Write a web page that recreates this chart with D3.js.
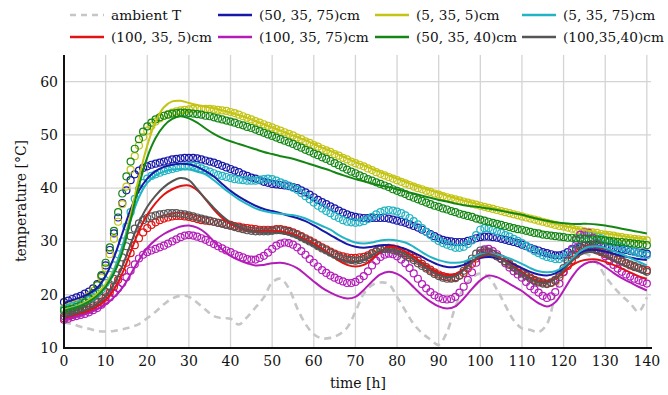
<!DOCTYPE html>
<meta charset="utf-8">
<style>
body { margin: 0; background: #fff; }
text { font-family: "DejaVu Serif", serif; fill: #111; }
.grid line { stroke: #d4d4d4; stroke-width: 1.3px; }
.meas { fill: none; stroke-width: 1.2px; }
.sim { fill: none; stroke-width: 2px; }
</style>
<body>
<div id="chart"></div>
<script src="https://d3js.org/d3.v7.min.js"></script>
<script>

// measurement times [h], hourly
var hoursMeas = [0, 1, 2, 3, 4, 5, 6, 7, 8, 9,
  10, 11, 12, 13, 14, 15, 16, 17, 18, 19,
  20, 21, 22, 23, 24, 25, 26, 27, 28, 29,
  30, 31, 32, 33, 34, 35, 36, 37, 38, 39,
  40, 41, 42, 43, 44, 45, 46, 47, 48, 49,
  50, 51, 52, 53, 54, 55, 56, 57, 58, 59,
  60, 61, 62, 63, 64, 65, 66, 67, 68, 69,
  70, 71, 72, 73, 74, 75, 76, 77, 78, 79,
  80, 81, 82, 83, 84, 85, 86, 87, 88, 89,
  90, 91, 92, 93, 94, 95, 96, 97, 98, 99,
  100, 101, 102, 103, 104, 105, 106, 107, 108, 109,
  110, 111, 112, 113, 114, 115, 116, 117, 118, 119,
  120, 121, 122, 123, 124, 125, 126, 127, 128, 129,
  130, 131, 132, 133, 134, 135, 136, 137, 138, 139,
  140];

// simulation output times [h]
var hoursSim = [0, 2, 4, 6, 8, 10, 12, 14, 16, 18,
  20, 22, 24, 26, 28, 30, 32, 34, 36, 38,
  40, 42, 44, 46, 48, 50, 52, 54, 56, 58,
  60, 62, 64, 66, 68, 70, 72, 74, 76, 78,
  80, 82, 84, 86, 88, 90, 92, 94, 96, 98,
  100, 102, 104, 106, 108, 110, 112, 114, 116, 118,
  120, 122, 124, 126, 128, 130, 132, 134, 136, 138,
  140];

var xTicks = [0, 10, 20, 30, 40, 50, 60, 70, 80, 90, 100, 110, 120, 130, 140];
var yTicks = [10, 20, 30, 40, 50, 60];

var ambientT = [14.8, 14.5, 14.0, 13.6, 13.2, 13.1, 13.2, 13.5, 13.9, 14.5,
  15.6, 16.8, 18.2, 19.3, 19.8, 19.6, 18.5, 17.2, 16.0, 15.6,
  15.5, 14.4, 15.8, 17.6, 19.5, 22.3, 23.0, 21.2, 17.5, 14.5,
  12.6, 11.8, 11.9, 12.5, 13.8, 16.8, 20.2, 21.8, 22.3, 22.0,
  19.6, 17.0, 14.5, 12.8, 11.6, 10.6, 13.0, 17.7, 21.3, 23.2,
  24.0, 23.3, 21.0, 18.0, 15.2, 13.7, 13.4, 13.0, 14.5, 20.0,
  25.0, 27.0, 27.8, 27.5, 26.0, 23.5, 21.5, 19.8, 18.4, 16.8,
  19.5];

// measured (circles), hourly
var meas_50_35_75 = [18.6, 18.9, 19.2, 19.5, 19.8, 20.2, 20.6, 21.2, 22.0, 23.5,
  25.5, 28.4, 31.5, 34.5, 37.2, 39.6, 41.5, 42.6, 43.3, 43.8,
  44.1, 44.4, 44.6, 44.8, 45.0, 45.2, 45.4, 45.5, 45.6, 45.7,
  45.7, 45.7, 45.6, 45.4, 45.2, 45.0, 44.8, 44.5, 44.2, 43.9,
  43.6, 43.3, 43.0, 42.6, 42.3, 42.0, 41.8, 41.5, 41.2, 41.0,
  40.8, 40.7, 40.6, 40.5, 40.4, 40.2, 40.0, 39.6, 39.2, 38.8,
  38.3, 37.8, 37.4, 37.0, 36.6, 36.2, 35.8, 35.4, 35.1, 34.8,
  34.6, 34.5, 34.4, 34.4, 34.4, 34.4, 34.4, 34.4, 34.3, 34.1,
  33.9, 33.7, 33.5, 33.2, 32.9, 32.6, 32.2, 31.8, 31.4, 31.0,
  30.6, 30.3, 30.1, 30.0, 29.9, 29.9, 29.9, 30.1, 30.3, 30.6,
  30.8, 30.9, 30.9, 30.8, 30.7, 30.5, 30.3, 30.1, 29.9, 29.7,
  29.4, 29.1, 28.8, 28.5, 28.3, 28.0, 27.8, 27.6, 27.4, 27.4,
  27.6, 28.0, 28.4, 28.7, 29.0, 29.2, 29.3, 29.3, 29.3, 29.2,
  29.1, 29.0, 28.8, 28.7, 28.5, 28.4, 28.2, 28.1, 27.9, 27.8,
  27.7];
var meas_5_35_5 = [17.5, 17.7, 18.0, 18.3, 18.6, 19.1, 19.8, 20.7, 21.8, 23.2,
  25.0, 27.6, 30.5, 33.7, 37.0, 40.3, 43.5, 46.0, 48.0, 49.6,
  50.8, 51.7, 52.5, 53.1, 53.6, 53.9, 54.2, 54.4, 54.6, 54.7,
  54.8, 54.9, 54.9, 54.9, 54.9, 54.9, 54.8, 54.7, 54.6, 54.5,
  54.3, 54.1, 53.8, 53.5, 53.2, 52.9, 52.6, 52.3, 52.0, 51.7,
  51.4, 51.1, 50.8, 50.5, 50.2, 49.9, 49.5, 49.2, 48.8, 48.5,
  48.1, 47.8, 47.4, 47.1, 46.8, 46.4, 46.1, 45.7, 45.4, 45.0,
  44.7, 44.4, 44.1, 43.7, 43.4, 43.0, 42.7, 42.4, 42.1, 41.8,
  41.5, 41.2, 40.9, 40.6, 40.3, 40.0, 39.8, 39.5, 39.3, 39.0,
  38.8, 38.5, 38.3, 38.1, 37.9, 37.7, 37.5, 37.3, 37.1, 36.9,
  36.7, 36.5, 36.3, 36.1, 35.9, 35.7, 35.5, 35.3, 35.1, 34.9,
  34.7, 34.5, 34.3, 34.1, 33.9, 33.7, 33.5, 33.3, 33.1, 32.9,
  32.8, 32.6, 32.4, 32.2, 32.1, 31.9, 31.8, 31.7, 31.6, 31.4,
  31.3, 31.2, 31.1, 30.9, 30.8, 30.7, 30.6, 30.5, 30.4, 30.3,
  30.2];
var meas_5_35_75 = [17.3, 17.5, 17.8, 18.0, 18.3, 18.6, 19.0, 19.5, 20.2, 21.0,
  22.2, 23.7, 25.5, 27.6, 30.0, 32.8, 35.5, 38.0, 39.8, 41.0,
  41.8, 42.3, 42.6, 42.9, 43.2, 43.4, 43.6, 43.8, 44.0, 44.1,
  44.2, 44.2, 44.0, 43.7, 43.4, 43.1, 42.8, 42.5, 42.3, 42.1,
  41.9, 41.7, 41.6, 41.5, 41.4, 41.4, 41.4, 41.6, 41.7, 41.8,
  41.7, 41.4, 41.1, 40.8, 40.5, 40.1, 39.7, 39.1, 38.5, 37.9,
  37.3, 36.7, 36.2, 35.7, 35.3, 34.8, 34.4, 34.0, 33.7, 33.6,
  33.5, 33.6, 33.8, 34.2, 34.6, 35.1, 35.5, 35.8, 35.9, 35.8,
  35.6, 35.3, 34.9, 34.4, 33.8, 33.2, 32.5, 31.8, 31.2, 30.6,
  30.1, 29.7, 29.4, 29.1, 28.8, 28.8, 29.0, 29.5, 30.2, 31.2,
  32.2, 32.5, 32.5, 32.2, 31.9, 31.6, 31.2, 30.9, 30.5, 30.1,
  29.7, 29.2, 28.7, 28.2, 27.8, 27.4, 27.1, 26.9, 26.7, 26.7,
  27.0, 27.5, 28.3, 29.4, 30.5, 31.1, 31.4, 31.2, 30.9, 30.6,
  30.2, 29.8, 29.5, 29.2, 28.9, 28.6, 28.3, 28.0, 27.8, 27.6,
  27.4];
var meas_100_35_5 = [15.6, 15.9, 16.2, 16.5, 16.7, 17.0, 17.2, 17.6, 18.0, 18.7,
  19.5, 20.4, 21.5, 22.8, 24.3, 26.0, 27.8, 29.3, 30.6, 31.7,
  32.5, 33.1, 33.6, 34.0, 34.3, 34.5, 34.7, 34.8, 34.8, 34.7,
  34.6, 34.4, 34.2, 34.0, 33.9, 33.8, 33.7, 33.5, 33.4, 33.2,
  33.1, 32.9, 32.8, 32.6, 32.5, 32.4, 32.3, 32.2, 32.2, 32.2,
  32.2, 32.3, 32.3, 32.2, 32.0, 31.7, 31.4, 31.0, 30.6, 30.2,
  29.8, 29.3, 28.9, 28.5, 28.1, 27.7, 27.4, 27.2, 27.0, 26.9,
  26.9, 27.0, 27.1, 27.4, 27.8, 28.2, 28.5, 28.7, 28.8, 28.7,
  28.5, 28.2, 27.8, 27.4, 26.9, 26.4, 25.8, 25.2, 24.7, 24.2,
  23.8, 23.5, 23.3, 23.2, 23.3, 23.6, 24.1, 24.9, 25.8, 26.8,
  27.6, 27.9, 27.9, 27.6, 27.2, 26.8, 26.3, 25.8, 25.2, 24.7,
  24.2, 23.7, 23.2, 22.8, 22.5, 22.3, 22.1, 22.2, 22.6, 23.3,
  24.3, 25.4, 26.5, 27.5, 28.2, 28.6, 28.7, 28.6, 28.3, 28.0,
  27.6, 27.3, 26.9, 26.6, 26.2, 25.9, 25.5, 25.2, 25.0, 24.8,
  24.6];
var meas_100_35_75 = [15.3, 15.5, 15.8, 16.0, 16.2, 16.4, 16.7, 17.1, 17.5, 18.1,
  18.8, 19.5, 20.3, 21.2, 22.2, 23.3, 24.5, 25.7, 26.8, 27.5,
  28.0, 28.3, 28.6, 28.9, 29.2, 29.6, 30.0, 30.4, 30.8, 31.1,
  31.2, 31.1, 30.9, 30.6, 30.3, 29.9, 29.5, 29.1, 28.7, 28.3,
  28.0, 27.6, 27.3, 27.0, 26.7, 26.6, 26.6, 26.9, 27.3, 27.9,
  28.6, 29.2, 29.6, 29.8, 29.7, 29.4, 28.9, 28.2, 27.5, 26.7,
  26.0, 25.3, 24.6, 24.1, 23.6, 23.2, 22.8, 22.5, 22.2, 22.2,
  22.4, 22.9, 23.5, 24.4, 25.5, 26.4, 27.1, 27.5, 27.7, 27.6,
  27.2, 26.6, 25.9, 25.0, 24.0, 23.0, 22.0, 21.2, 20.5, 19.9,
  19.5, 19.2, 19.1, 19.2, 19.6, 20.4, 21.5, 22.8, 24.2, 26.0,
  27.8, 28.5, 28.6, 28.2, 27.6, 26.8, 25.9, 25.1, 24.4, 23.8,
  23.2, 22.4, 21.6, 21.0, 20.4, 19.8, 19.4, 19.7, 20.5, 22.1,
  24.2, 26.4, 28.6, 30.3, 31.3, 31.7, 31.6, 30.7, 29.6, 28.4,
  27.2, 26.3, 25.6, 24.9, 24.3, 23.8, 23.4, 23.0, 22.7, 22.4,
  22.1];
var meas_50_35_40 = [17.0, 17.2, 17.4, 17.7, 18.0, 18.5, 19.3, 20.3, 21.8, 23.7,
  26.0, 28.9, 32.0, 35.5, 39.0, 42.2, 45.0, 47.4, 49.2, 50.6,
  51.6, 52.3, 52.9, 53.3, 53.6, 53.8, 54.0, 54.1, 54.2, 54.2,
  54.1, 54.0, 53.9, 53.8, 53.6, 53.5, 53.3, 53.1, 52.9, 52.7,
  52.5, 52.3, 52.0, 51.8, 51.5, 51.3, 51.0, 50.7, 50.4, 50.1,
  49.8, 49.5, 49.2, 48.9, 48.6, 48.3, 47.9, 47.6, 47.2, 46.9,
  46.5, 46.2, 45.8, 45.5, 45.1, 44.7, 44.3, 43.9, 43.5, 43.1,
  42.8, 42.4, 42.1, 41.7, 41.4, 41.1, 40.8, 40.5, 40.2, 39.8,
  39.5, 39.2, 38.9, 38.5, 38.2, 37.9, 37.6, 37.3, 37.0, 36.7,
  36.5, 36.2, 36.0, 35.7, 35.5, 35.2, 35.0, 34.8, 34.6, 34.3,
  34.1, 33.9, 33.7, 33.5, 33.3, 33.1, 32.9, 32.7, 32.5, 32.3,
  32.2, 32.0, 31.8, 31.6, 31.5, 31.3, 31.2, 31.1, 31.0, 30.9,
  30.8, 30.7, 30.7, 30.6, 30.6, 30.5, 30.5, 30.4, 30.4, 30.3,
  30.2, 30.1, 30.0, 29.9, 29.9, 29.8, 29.7, 29.6, 29.5, 29.4,
  29.3];
var meas_100_35_40 = [16.0, 16.3, 16.5, 16.8, 17.0, 17.3, 17.6, 18.0, 18.6, 19.4,
  20.5, 21.6, 23.0, 24.9, 27.0, 29.1, 31.0, 32.4, 33.4, 34.0,
  34.4, 34.7, 34.9, 35.1, 35.2, 35.3, 35.3, 35.3, 35.2, 35.1,
  34.9, 34.7, 34.5, 34.3, 34.1, 33.9, 33.7, 33.5, 33.3, 33.1,
  32.9, 32.7, 32.5, 32.3, 32.1, 32.0, 31.9, 31.9, 31.9, 31.9,
  32.0, 32.1, 32.1, 32.0, 31.8, 31.5, 31.2, 30.8, 30.4, 30.0,
  29.6, 29.1, 28.7, 28.3, 27.9, 27.5, 27.1, 26.8, 26.6, 26.5,
  26.4, 26.5, 26.7, 27.1, 27.6, 28.1, 28.5, 28.6, 28.6, 28.4,
  28.2, 27.8, 27.4, 27.0, 26.5, 25.9, 25.4, 24.9, 24.4, 23.9,
  23.5, 23.2, 23.0, 23.0, 23.1, 23.6, 24.5, 25.6, 26.8, 27.7,
  28.3, 28.3, 28.1, 27.7, 27.2, 26.7, 26.2, 25.6, 25.1, 24.5,
  24.0, 23.5, 23.0, 22.6, 22.3, 22.1, 22.0, 22.3, 22.8, 23.8,
  25.0, 26.3, 27.5, 28.4, 29.0, 29.2, 29.1, 28.9, 28.6, 28.3,
  27.9, 27.5, 27.1, 26.8, 26.4, 26.0, 25.7, 25.4, 25.1, 24.7,
  24.3];

// simulated (lines)
var sim_50_35_75 = [18.4, 19.0, 19.5, 20.2, 21.3, 23.5, 27.0, 31.5, 36.0, 39.5,
  41.8, 43.2, 44.0, 44.4, 44.6, 44.5, 44.0, 43.2, 42.2, 40.8,
  39.5, 38.4, 37.5, 36.7, 36.1, 35.7, 35.3, 34.8, 34.4, 33.8,
  33.0, 32.1, 31.2, 30.3, 29.5, 29.0, 28.8, 29.0, 29.3, 29.3,
  29.0, 28.6, 27.9, 27.1, 26.3, 25.6, 25.2, 25.2, 25.6, 26.3,
  26.9, 27.1, 26.9, 26.4, 25.7, 25.0, 24.3, 23.8, 23.6, 24.0,
  25.0, 26.5, 27.8, 28.4, 28.4, 28.1, 27.7, 27.3, 27.0, 26.7,
  26.5];
var sim_5_35_5 = [17.2, 17.6, 18.2, 19.0, 20.2, 22.0, 24.8, 29.0, 35.0, 42.0,
  48.0, 52.5, 55.2, 56.3, 56.4, 56.0, 55.6, 55.3, 55.0, 54.6,
  54.2, 53.7, 53.2, 52.6, 52.0, 51.4, 50.8, 50.2, 49.6, 49.0,
  48.3, 47.6, 47.0, 46.3, 45.6, 44.9, 44.3, 43.6, 43.0, 42.4,
  41.8, 41.2, 40.6, 40.1, 39.6, 39.1, 38.6, 38.1, 37.7, 37.3,
  36.9, 36.5, 36.1, 35.7, 35.3, 34.9, 34.5, 34.1, 33.7, 33.3,
  32.9, 32.6, 32.3, 32.0, 31.7, 31.5, 31.3, 31.0, 30.8, 30.6,
  30.4];
var sim_5_35_75 = [17.0, 17.5, 18.0, 18.7, 19.7, 21.5, 24.5, 29.0, 34.0, 38.3,
  41.0, 42.4, 43.1, 43.5, 43.6, 43.5, 43.1, 42.6, 41.5, 40.2,
  39.0, 37.9, 37.0, 36.2, 35.7, 35.4, 35.2, 35.0, 34.8, 34.3,
  33.6, 32.9, 32.2, 31.2, 30.4, 29.8, 29.6, 29.8, 30.2, 30.3,
  30.2, 29.8, 29.0, 28.0, 27.1, 26.5, 26.1, 26.0, 26.2, 26.9,
  27.6, 27.7, 27.5, 27.1, 26.5, 25.8, 25.0, 24.4, 24.2, 24.4,
  25.3, 26.7, 28.2, 29.0, 29.1, 28.8, 28.2, 27.6, 26.9, 26.2,
  25.5];
var sim_100_35_5 = [15.5, 16.0, 16.5, 17.0, 17.8, 19.0, 21.0, 24.0, 28.0, 32.0,
  35.0, 37.2, 38.8, 39.8, 40.4, 40.5, 39.6, 37.9, 36.0, 34.4,
  33.3, 32.6, 32.2, 32.0, 32.0, 32.0, 31.9, 31.6, 31.1, 30.4,
  29.6, 28.6, 27.5, 26.4, 25.6, 25.3, 25.6, 26.6, 28.1, 29.0,
  28.8, 28.1, 27.1, 25.9, 24.9, 24.1, 23.7, 23.9, 24.8, 26.1,
  27.1, 27.6, 27.2, 26.4, 25.3, 24.3, 23.2, 22.5, 22.4, 23.0,
  24.2, 25.5, 26.3, 26.6, 26.6, 26.2, 25.6, 24.9, 24.2, 23.5,
  23.0];
var sim_100_35_75 = [15.3, 15.7, 16.1, 16.6, 17.3, 18.2, 19.5, 21.3, 23.8, 26.5,
  28.8, 30.3, 31.4, 32.2, 32.8, 33.0, 32.6, 31.6, 30.0, 28.5,
  27.3, 26.5, 25.9, 25.5, 25.6, 25.9, 26.0, 25.7, 25.0, 23.8,
  22.5, 21.3, 20.4, 19.7, 19.3, 19.6, 20.9, 22.5, 23.8, 24.3,
  23.9, 22.9, 21.4, 19.9, 18.7, 17.8, 17.4, 17.8, 19.3, 21.1,
  22.7, 23.6, 23.3, 22.5, 21.6, 20.7, 19.5, 18.4, 17.8, 18.6,
  20.8, 23.3, 25.2, 26.1, 26.1, 25.2, 24.1, 23.1, 22.3, 21.5,
  20.8];
var sim_50_35_40 = [17.0, 17.4, 17.9, 18.7, 19.8, 21.5, 24.0, 28.0, 34.0, 40.5,
  45.8, 49.4, 51.7, 53.0, 53.5, 53.1, 52.3, 51.2, 50.2, 49.4,
  48.8, 48.3, 47.8, 47.3, 46.8, 46.4, 46.0, 45.7, 45.3, 44.8,
  44.3, 43.8, 43.3, 42.7, 42.2, 41.7, 41.3, 40.9, 40.5, 40.2,
  39.8, 39.4, 39.0, 38.6, 38.2, 37.8, 37.5, 37.1, 36.8, 36.6,
  36.4, 36.2, 35.9, 35.6, 35.3, 35.0, 34.6, 34.2, 33.9, 33.6,
  33.4, 33.3, 33.3, 33.3, 33.2, 33.0, 32.7, 32.4, 32.1, 31.8,
  31.5];
var sim_100_35_40 = [15.8, 16.3, 16.8, 17.4, 18.3, 19.8, 22.0, 25.3, 29.5, 33.5,
  36.5, 38.6, 40.2, 41.3, 41.9, 41.5, 39.8, 38.0, 36.3, 34.8,
  33.6, 32.7, 32.1, 31.8, 31.7, 31.7, 31.6, 31.3, 30.8, 30.1,
  29.2, 28.3, 27.4, 26.7, 26.2, 26.1, 26.5, 27.4, 28.3, 28.6,
  28.3, 27.6, 26.6, 25.5, 24.5, 23.7, 23.3, 23.5, 24.6, 26.2,
  27.3, 27.6, 27.1, 26.2, 25.1, 24.0, 23.0, 22.3, 22.2, 23.0,
  24.6, 26.3, 27.5, 28.0, 27.8, 27.2, 26.4, 25.7, 25.0, 24.4,
  23.8];

var seriesNames = ["(50, 35, 75)cm", "(5, 35, 5)cm", "(5, 35, 75)cm", "(100, 35, 5)cm",
  "(100, 35, 75)cm", "(50, 35, 40)cm", "(100,35,40)cm"];
var seriesColors = ["#1818a8", "#c4c414", "#22b4c4", "#e01414", "#b41cb8", "#138613", "#555555"];
var measured = [meas_50_35_75, meas_5_35_5, meas_5_35_75, meas_100_35_5, meas_100_35_75, meas_50_35_40, meas_100_35_40];
var simulated = [sim_50_35_75, sim_5_35_5, sim_5_35_75, sim_100_35_5, sim_100_35_75, sim_50_35_40, sim_100_35_40];

var width = 668,
    height = 395;

var svg = d3.select("#chart").append("svg")
    .attr("width", width)
    .attr("height", height);

var x = d3.scaleLinear().domain([0, 141]).range([64, 651]);
var y = d3.scaleLinear().domain([10, 65]).range([348, 55]);

// grid
var grid = svg.append("g").attr("class", "grid");
grid.selectAll(".vx").data(xTicks).enter().append("line")
    .attr("x1", d => x(d)).attr("x2", d => x(d))
    .attr("y1", y(10)).attr("y2", y(65));
grid.selectAll(".hy").data(yTicks).enter().append("line")
    .attr("x1", x(0)).attr("x2", x(141))
    .attr("y1", d => y(d)).attr("y2", d => y(d));

var line = d3.line()
    .x(d => x(d[0]))
    .y(d => y(d[1]))
    .curve(d3.curveCatmullRom);

// ambient
svg.append("path")
    .datum(d3.zip(hoursSim, ambientT))
    .attr("d", line)
    .attr("fill", "none")
    .attr("stroke", "#c6c6c6")
    .attr("stroke-width", 2.6)
    .attr("stroke-dasharray", "7,5");

// measurements first, simulations drawn over them
seriesNames.forEach(function(name, i) {
  svg.append("g").selectAll("circle")
    .data(d3.zip(hoursMeas, measured[i]))
    .enter().append("circle")
    .attr("class", "meas")
    .attr("cx", d => x(d[0]))
    .attr("cy", d => y(d[1]))
    .attr("r", 3.5)
    .attr("stroke", seriesColors[i]);
});
seriesNames.forEach(function(name, i) {
  svg.append("path")
    .datum(d3.zip(hoursSim, simulated[i]))
    .attr("class", "sim")
    .attr("d", line)
    .attr("stroke", seriesColors[i]);
});

// axes
svg.append("line")
    .attr("x1", x(0)).attr("x2", x(0))
    .attr("y1", y(65)).attr("y2", y(10) + 1)
    .attr("stroke", "#111").attr("stroke-width", 2);
svg.append("line")
    .attr("x1", x(0) - 1).attr("x2", x(141) + 1)
    .attr("y1", y(10)).attr("y2", y(10))
    .attr("stroke", "#111").attr("stroke-width", 2);

svg.selectAll(".ytick").data(yTicks).enter().append("text")
    .attr("x", 58)
    .attr("y", d => y(d) + 5)
    .attr("text-anchor", "end")
    .style("font-size", "14px")
    .text(d => d);

svg.selectAll(".xtick").data(xTicks).enter().append("text")
    .attr("x", d => x(d))
    .attr("y", 366)
    .attr("text-anchor", "middle")
    .style("font-size", "14px")
    .text(d => d);

svg.append("text")
    .attr("transform", "translate(26," + 201 + ") rotate(-90)")
    .attr("text-anchor", "middle")
    .style("font-size", "14px")
    .text("temperature [°C]");

svg.append("text")
    .attr("x", 358)
    .attr("y", 388)
    .attr("text-anchor", "middle")
    .style("font-size", "14px")
    .text("time [h]");

// legend
var legendItems = [{label: "ambient T", color: "#c6c6c6", dash: "6,5"}].concat(
  seriesNames.map((n, i) => ({label: n, color: seriesColors[i], dash: null})));
var colX = [70, 218, 375, 522];
var rowY = [15, 37];

var legend = svg.append("g").attr("class", "legend");
legendItems.forEach(function(item, k) {
  var lx = colX[k % 4], ly = rowY[Math.floor(k / 4)];
  legend.append("line")
    .attr("x1", lx).attr("x2", lx + 34)
    .attr("y1", ly).attr("y2", ly)
    .attr("stroke", item.color)
    .attr("stroke-width", 2.6)
    .attr("stroke-dasharray", item.dash);
  legend.append("text")
    .attr("x", lx + 41)
    .attr("y", ly + 5)
    .style("font-size", "13.7px")
    .text(item.label);
});

</script>
</body>
